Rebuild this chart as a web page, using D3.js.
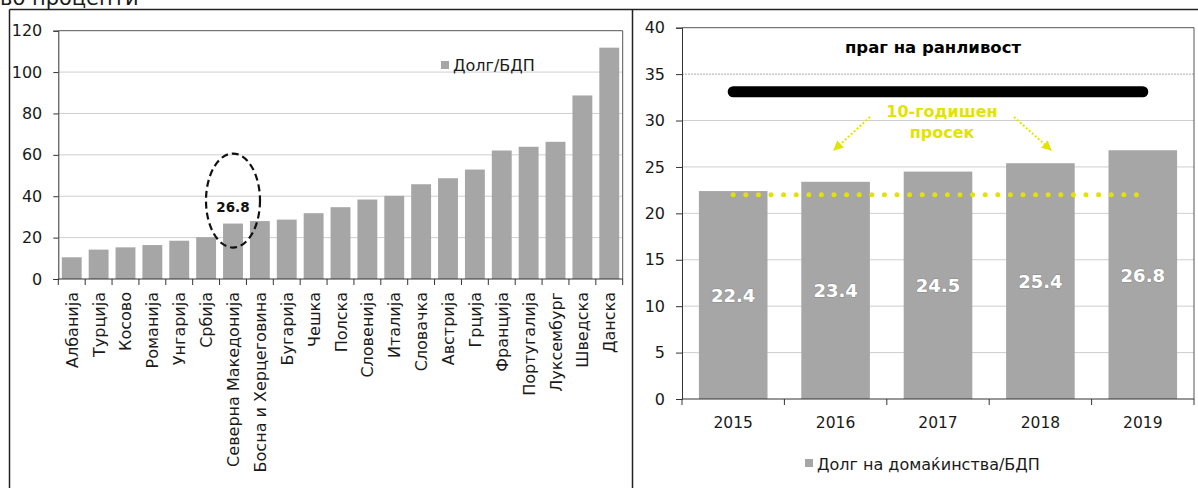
<!DOCTYPE html>
<html><head><meta charset="utf-8">
<script src="https://cdn.jsdelivr.net/npm/d3@7"></script>
<style>
html,body{margin:0;padding:0;background:#fff;}
svg{display:block;font-family:"DejaVu Sans",Verdana,sans-serif;}
</style></head>
<body>
<svg id="c" width="1198" height="488"></svg>
<script>
// ---- data ----
const countries = ["Албанија","Турција","Косово","Романија","Унгарија","Србија","Северна Македонија","Босна и Херцеговина","Бугарија","Чешка","Полска","Словенија","Италија","Словачка","Австрија","Грција","Франција","Португалија","Луксембург","Шведска","Данска"];
const debtGdp = [10.5,14.2,15.3,16.4,18.5,20.2,26.8,28.0,28.7,31.8,34.7,38.4,40.2,45.8,48.7,52.9,62.1,63.9,66.3,88.7,111.8];
const highlightCountry = "Северна Македонија";
const leftTicks = [0,20,40,60,80,100,120];

const years = ["2015","2016","2017","2018","2019"];
const householdDebt = [22.4,23.4,24.5,25.4,26.8];
const rightTicks = [0,5,10,15,20,25,30,35,40];
const threshold = [33.1];      // праг на ранливост
const tenYearAvg = [22.0];     // 10-годишен просек

const title = "во проценти";
const leftLegend = "Долг/БДП";
const rightLegend = "Долг на домаќинства/БДП";
const thresholdLabel = "праг на ранливост";
const avgLabel = ["10-годишен","просек"];

// ---- drawing ----
const svg = d3.select("#c");
const BAR = "#a6a6a6", YEL = "#e3e300", TXT = "#1a1a1a";

// title (cut at top, as in the original)
svg.append("text").attr("x",0).attr("y",4.5).attr("font-size",21).attr("fill",TXT).text(title);

// frames
svg.append("line").attr("x1",9.5).attr("x2",1198).attr("y1",9.5).attr("y2",9.5).attr("stroke","#222").attr("stroke-width",1.5);
svg.append("line").attr("x1",9.5).attr("x2",9.5).attr("y1",9.5).attr("y2",488).attr("stroke","#222").attr("stroke-width",1.5);
svg.append("line").attr("x1",632.5).attr("x2",632.5).attr("y1",9.5).attr("y2",488).attr("stroke","#222").attr("stroke-width",1.5);

// ===== LEFT CHART =====
const xL = d3.scaleBand().domain(countries).range([58.3,622.7]).paddingInner(0.26).paddingOuter(0.13);
const yL = d3.scaleLinear().domain([0,120]).range([279,30.7]);
const gL = svg.append("g");

gL.selectAll(".gl").data(leftTicks.filter(d=>d>0 && d<120)).join("line")
  .attr("x1",58.3).attr("x2",622.7).attr("y1",d=>yL(d)).attr("y2",d=>yL(d))
  .attr("stroke","#cfcfcf").attr("stroke-width",1);
gL.append("line").attr("x1",58.3).attr("x2",622.7).attr("y1",yL(120)).attr("y2",yL(120)).attr("stroke","#555").attr("stroke-width",1);
gL.append("line").attr("x1",622.7).attr("x2",622.7).attr("y1",yL(120)).attr("y2",yL(0)).attr("stroke","#555").attr("stroke-width",1);

gL.selectAll(".bar").data(countries).join("rect")
  .attr("x",d=>xL(d)).attr("width",xL.bandwidth())
  .attr("y",(d,i)=>yL(debtGdp[i])).attr("height",(d,i)=>yL(0)-yL(debtGdp[i]))
  .attr("fill",BAR);

const yAxL = d3.axisLeft(yL).tickValues(leftTicks).tickSize(5).tickPadding(11);
const gyL = gL.append("g").attr("transform","translate(58.3,0)").call(yAxL);
gyL.select(".domain").attr("stroke","#333");
gyL.selectAll(".tick line").attr("stroke","#333");
gyL.selectAll("text").attr("font-size",16).attr("fill",TXT).attr("font-family","DejaVu Sans");

const stepL = xL.step();
const bounds = d3.range(countries.length+1).map(i=>58.3+i*stepL);
gL.append("line").attr("x1",58.3).attr("x2",622.7).attr("y1",yL(0)).attr("y2",yL(0)).attr("stroke","#333");
gL.selectAll(".xt").data(bounds).join("line")
  .attr("x1",d=>d).attr("x2",d=>d).attr("y1",yL(0)).attr("y2",yL(0)+6).attr("stroke","#333");
gL.selectAll(".xl").data(countries).join("text")
  .attr("transform",d=>`translate(${xL(d)+xL.bandwidth()/2+6},${yL(0)+13}) rotate(-90)`)
  .attr("text-anchor","end").attr("font-size",16).attr("fill",TXT).text(d=>d);

// legend
gL.append("rect").attr("x",441).attr("y",61).attr("width",8).attr("height",8).attr("fill",BAR);
gL.append("text").attr("x",453).attr("y",71).attr("font-size",16).attr("fill",TXT).text(leftLegend);

// highlight ellipse
const hi = countries.indexOf(highlightCountry);
const cx = xL(highlightCountry)+xL.bandwidth()/2;
gL.append("ellipse").attr("cx",cx).attr("cy",yL(debtGdp[hi])-23).attr("rx",27).attr("ry",47)
  .attr("fill","none").attr("stroke","#111").attr("stroke-width",2.2).attr("stroke-dasharray","7,4");
gL.append("text").attr("x",cx).attr("y",yL(debtGdp[hi])-12).attr("text-anchor","middle")
  .attr("font-size",13.5).attr("font-weight","bold").attr("fill","#111").text(debtGdp[hi].toFixed(1));

// ===== RIGHT CHART =====
const xR = d3.scaleBand().domain(years).range([682,1194]).paddingInner(0.33).paddingOuter(0.165);
const yR = d3.scaleLinear().domain([0,40]).range([399,27.7]);
const gR = svg.append("g");

gR.selectAll(".gr").data(rightTicks.filter(d=>d>0 && d<40)).join("line")
  .attr("x1",682).attr("x2",1194).attr("y1",d=>yR(d)).attr("y2",d=>yR(d))
  .attr("stroke",d=>d===35?"#aaa":"#cfcfcf").attr("stroke-width",1)
  .attr("stroke-dasharray",d=>d===35?"2,1":null);
gR.append("line").attr("x1",682).attr("x2",1194).attr("y1",yR(40)).attr("y2",yR(40)).attr("stroke","#555");
gR.append("line").attr("x1",1194).attr("x2",1194).attr("y1",yR(40)).attr("y2",yR(0)).attr("stroke","#555");

gR.selectAll(".bar").data(years).join("rect")
  .attr("x",d=>xR(d)).attr("width",xR.bandwidth())
  .attr("y",(d,i)=>yR(householdDebt[i])).attr("height",(d,i)=>yR(0)-yR(householdDebt[i]))
  .attr("fill",BAR);

const yAxR = d3.axisLeft(yR).tickValues(rightTicks).tickSize(6).tickPadding(11);
const gyR = gR.append("g").attr("transform","translate(682,0)").call(yAxR);
gyR.select(".domain").attr("stroke","#333");
gyR.selectAll(".tick line").attr("stroke","#333");
gyR.selectAll("text").attr("font-size",16).attr("fill",TXT).attr("font-family","DejaVu Sans");

const stepR = xR.step();
gR.append("line").attr("x1",682).attr("x2",1194).attr("y1",yR(0)).attr("y2",yR(0)).attr("stroke","#333");
gR.selectAll(".xt").data(d3.range(years.length+1).map(i=>682+i*stepR)).join("line")
  .attr("x1",d=>d).attr("x2",d=>d).attr("y1",yR(0)).attr("y2",yR(0)+6).attr("stroke","#333");
gR.selectAll(".xl").data(years).join("text")
  .attr("x",d=>xR(d)+xR.bandwidth()/2).attr("y",yR(0)+29).attr("text-anchor","middle")
  .attr("font-size",15.5).attr("fill",TXT).text(d=>d);

gR.selectAll(".vl").data(years).join("text")
  .attr("x",d=>xR(d)+xR.bandwidth()/2)
  .attr("y",(d,i)=>(yR(0)+yR(householdDebt[i]))/2+7)
  .attr("text-anchor","middle").attr("font-size",18).attr("font-weight","bold")
  .attr("fill","#fff").style("paint-order","stroke").attr("stroke","#8a8a8a").attr("stroke-width",1)
  .text((d,i)=>householdDebt[i].toFixed(1));

// threshold bar
const c0 = xR(years[0])+xR.bandwidth()/2, c1 = xR(years[years.length-1])+xR.bandwidth()/2;
gR.append("line").attr("x1",c0).attr("x2",c1).attr("y1",yR(threshold[0])).attr("y2",yR(threshold[0]))
  .attr("stroke","#000").attr("stroke-width",11).attr("stroke-linecap","round");
gR.append("text").attr("x",933).attr("y",53).attr("text-anchor","middle").attr("font-size",16.5)
  .attr("font-weight","bold").attr("fill","#000").text(thresholdLabel);

// 10-year average dotted line
gR.append("line").attr("x1",c0).attr("x2",c1).attr("y1",yR(tenYearAvg[0])).attr("y2",yR(tenYearAvg[0]))
  .attr("stroke",YEL).attr("stroke-width",5).attr("stroke-linecap","round").attr("stroke-dasharray","0,12.6");

gR.selectAll(".al").data(avgLabel).join("text")
  .attr("x",942).attr("y",(d,i)=>117+i*21).attr("text-anchor","middle").attr("font-size",16)
  .attr("font-weight","bold").attr("fill",YEL).text(d=>d);

// arrows
const defs = svg.append("defs");
defs.append("marker").attr("id","ah").attr("viewBox","0 0 10 10").attr("refX",9).attr("refY",5)
  .attr("markerWidth",10).attr("markerHeight",10).attr("markerUnits","userSpaceOnUse").attr("orient","auto")
  .append("path").attr("d","M0,0L10,5L0,10z").attr("fill",YEL);
[[870,117,834,150],[1014,117,1051,150]].forEach(a=>{
  gR.append("line").attr("x1",a[0]).attr("y1",a[1]).attr("x2",a[2]).attr("y2",a[3])
    .attr("stroke",YEL).attr("stroke-width",2).attr("stroke-dasharray","2,2").attr("marker-end","url(#ah)");
});

// legend
gR.append("rect").attr("x",805).attr("y",459).attr("width",8).attr("height",8).attr("fill",BAR);
gR.append("text").attr("x",817).attr("y",469.5).attr("font-size",16).attr("fill",TXT).text(rightLegend);
</script>
</body></html>
